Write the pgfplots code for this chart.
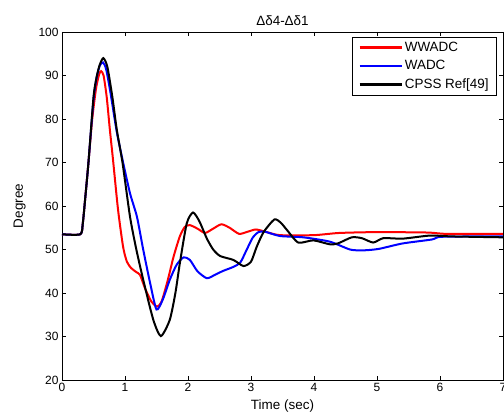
\documentclass[border=0pt]{standalone}
\usepackage{pgfplots}
\pgfplotsset{compat=1.18}
\usepackage{fontspec}
\setmainfont{Liberation Sans}
\definecolor{mred}{RGB}{255,0,0}
\definecolor{mblue}{RGB}{0,0,255}
\begin{document}
\begin{tikzpicture}
\useasboundingbox (-62bp,-36bp) rectangle (442bp,380bp);
\begin{axis}[
  at={(0,0)}, anchor=south west,
  scale only axis, width=441bp, height=348bp,
  xmin=0, xmax=7, ymin=20, ymax=100,
  xtick={0,1,...,7}, ytick={20,30,...,100},
  tick align=inside, major tick length=4bp,
  tick style={black, line width=0.4pt},
  axis line style={line width=0.5pt},
  font=\fontsize{12}{14}\selectfont,
  /pgf/number format/assume math mode=true,
  title={Δδ4-Δδ1},
  title style={font=\fontsize{13.5}{15}\selectfont, yshift=-3bp},
  xlabel={Time (sec)},
  xlabel style={font=\fontsize{13.5}{15}\selectfont, yshift=-1bp},
  ylabel={Degree},
  ylabel style={font=\fontsize{13.5}{15}\selectfont, yshift=6bp},
  legend style={at={(0.986,0.986)}, anchor=north east, draw=black, line width=0.5pt,
    font=\fontsize{13.5}{15}\selectfont, row sep=3.5bp, inner xsep=6bp, inner ysep=3bp,
    legend cell align=left},
  legend image code/.code={\draw[#1, line width=2.3bp] (0bp,0bp) -- (42bp,0bp);},
]
\addplot[mred, line width=2bp, smooth, tension=0.4] coordinates {
(0,53.5) (0.29,53.5) (0.33,56) (0.37,62) (0.42,70) (0.48,80) (0.54,87) (0.59,90.3) (0.62,91) (0.66,90) (0.71,85) (0.76,77.5) (0.81,70.6) (0.89,59.1) (0.97,50.6) (1.03,47.2) (1.10,45.7) (1.18,44.8) (1.24,44.1) (1.32,41) (1.42,38) (1.51,36.9) (1.58,38) (1.68,43) (1.77,48.3) (1.87,53) (1.95,55.2) (2.03,55.6) (2.15,54.8) (2.27,53.8) (2.40,54.8) (2.53,55.8) (2.66,55) (2.81,53.6) (2.95,54.1) (3.08,54.6) (3.25,54) (3.46,53.3) (4.0,53.3) (4.4,53.8) (5.0,54) (5.8,53.9) (6.1,53.6) (7,53.6)
};
\addlegendentry{WWADC}
\addplot[mblue, line width=2bp, smooth, tension=0.4] coordinates {
(0,53.5) (0.29,53.5) (0.33,56) (0.37,62) (0.42,70) (0.50,84.5) (0.55,89.5) (0.60,92.3) (0.65,93) (0.70,91.5) (0.77,86) (0.87,77) (0.97,70) (1.08,62.9) (1.19,57.5) (1.29,49.9) (1.40,42.2) (1.50,36.2) (1.60,38.5) (1.71,43) (1.82,46.5) (1.93,48.2) (2.03,47.6) (2.15,45) (2.30,43.4) (2.43,44.2) (2.56,45.1) (2.72,46) (2.83,47) (2.93,49.9) (3.03,52.8) (3.12,54) (3.22,54.1) (3.46,53.1) (3.83,52.8) (4.25,51.8) (4.57,50) (4.75,49.8) (4.89,49.9) (5.05,50.2) (5.41,51.4) (5.87,52.3) (6.0,52.9) (6.5,53) (7,53)
};
\addlegendentry{WADC}
\addplot[black, line width=2bp, smooth, tension=0.4] coordinates {
(0,53.5) (0.29,53.5) (0.33,56) (0.37,62) (0.42,70) (0.50,85) (0.55,89.7) (0.60,92.5) (0.656,94) (0.72,92) (0.80,85) (0.87,77.5) (0.96,70) (1.08,57.5) (1.18,50) (1.29,43) (1.45,33.8) (1.57,30.1) (1.71,33.8) (1.80,40) (1.87,46.8) (1.98,56) (2.08,58.5) (2.18,56.5) (2.30,52.5) (2.40,50) (2.51,48.5) (2.72,47.6) (2.88,46.2) (3.0,47.2) (3.09,50.6) (3.2,54) (3.37,56.9) (3.47,56.2) (3.57,54.5) (3.75,51.6) (3.99,52.1) (4.25,51.2) (4.38,51.4) (4.6,52.8) (4.76,52.6) (4.94,51.6) (5.1,52.6) (5.41,52.5) (5.84,53.2) (6.2,53) (7,52.8)
};
\addlegendentry{CPSS Ref[49]}
\end{axis}
\end{tikzpicture}
\end{document}
